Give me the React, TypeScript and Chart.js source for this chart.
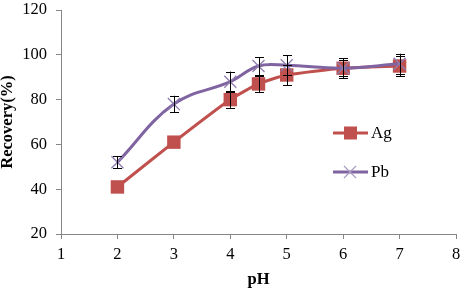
import React, { useEffect, useRef } from "react";
import { Chart, registerables } from "chart.js";

Chart.register(...registerables);

const phValues = [2, 3, 4, 4.5, 5, 6, 7];
const agValues = [41, 61, 80, 87, 91, 94, 95];
const agErrors = [0, 0, 3.7, 3.7, 4.5, 4.5, 4.5];
const pbValues = [52, 78, 88, 95, 95.3, 94, 96];
const pbErrors = [2.7, 3.7, 4.5, 4, 4.5, 3.5, 4.5];
const xTicks = [1, 2, 3, 4, 5, 6, 7, 8];
const yTicks = [20, 40, 60, 80, 100, 120];
const seriesNames = ["Ag", "Pb"];

const AG_COLOR = "#C0504D";
const PB_COLOR = "#8064A2";
const AXIS_COLOR = "#868686";
const FONT = "'Liberation Serif', 'Times New Roman', serif";

const errorBarPlugin = {
  id: "errorBars",
  afterDatasetsDraw(chart: any) {
    const ctx = chart.ctx;
    const xs = chart.scales.x;
    const ys = chart.scales.y;
    const sets = [
      { v: agValues, e: agErrors },
      { v: pbValues, e: pbErrors },
    ];
    ctx.save();
    ctx.strokeStyle = "#000";
    ctx.lineWidth = 1;
    sets.forEach((s) => {
      phValues.forEach((p, i) => {
        if (!s.e[i]) return;
        const x = Math.round(xs.getPixelForValue(p)) + 0.5;
        const yt = ys.getPixelForValue(s.v[i] + s.e[i]);
        const yb = ys.getPixelForValue(s.v[i] - s.e[i]);
        ctx.beginPath();
        ctx.moveTo(x, yt);
        ctx.lineTo(x, yb);
        ctx.moveTo(x - 4.5, Math.round(yt) + 0.5);
        ctx.lineTo(x + 4.5, Math.round(yt) + 0.5);
        ctx.moveTo(x - 4.5, Math.round(yb) + 0.5);
        ctx.lineTo(x + 4.5, Math.round(yb) + 0.5);
        ctx.stroke();
      });
    });
    ctx.restore();
  },
};

const legendPlugin = {
  id: "customLegend",
  afterDraw(chart: any) {
    const ctx = chart.ctx;
    const items = [
      { name: seriesNames[0], color: AG_COLOR, style: "rect", y: 133 },
      { name: seriesNames[1], color: PB_COLOR, style: "crossRot", y: 172 },
    ];
    ctx.save();
    items.forEach((it) => {
      ctx.strokeStyle = it.color;
      ctx.lineWidth = 3;
      ctx.beginPath();
      ctx.moveTo(333, it.y);
      ctx.lineTo(368, it.y);
      ctx.stroke();
      if (it.style === "rect") {
        ctx.fillStyle = it.color;
        ctx.fillRect(344, it.y - 6.5, 13, 13);
      } else {
        ctx.lineWidth = 1.2;
        ctx.strokeStyle = "#A99BC0";
        ctx.beginPath();
        ctx.moveTo(344, it.y - 6);
        ctx.lineTo(356, it.y + 6);
        ctx.moveTo(356, it.y - 6);
        ctx.lineTo(344, it.y + 6);
        ctx.stroke();
      }
      ctx.fillStyle = "#000";
      ctx.font = `17px ${FONT}`;
      ctx.textBaseline = "middle";
      ctx.textAlign = "left";
      ctx.fillText(it.name, 371, it.y + 1);
    });
    ctx.restore();
  },
};

export default function App() {
  const ref = useRef<HTMLCanvasElement | null>(null);
  useEffect(() => {
    document.body.style.margin = "0";
    const canvas = ref.current!;
    const chart = new Chart(canvas, {
      type: "line",
      data: {
        datasets: [
          {
            label: seriesNames[0],
            data: phValues.map((p, i) => ({ x: p, y: agValues[i] })),
            borderColor: AG_COLOR,
            backgroundColor: AG_COLOR,
            borderWidth: 3,
            pointStyle: "rect",
            pointRadius: 9.5,
            pointBorderWidth: 0,
            tension: 0.2,
            order: 2,
          },
          {
            label: seriesNames[1],
            data: phValues.map((p, i) => ({ x: p, y: pbValues[i] })),
            borderColor: PB_COLOR,
            backgroundColor: PB_COLOR,
            pointBorderColor: "#8E7DB0",
            borderWidth: 3,
            pointStyle: "crossRot",
            pointRadius: 8.5,
            pointBorderWidth: 1.3,
            tension: 0.4,
            order: 1,
          },
        ],
      },
      options: {
        animation: false,
        responsive: false,
        maintainAspectRatio: false,
        layout: { padding: { top: 10, right: 11, left: 0, bottom: 0 } },
        plugins: {
          legend: { display: false },
          tooltip: { enabled: false },
        },
        scales: {
          x: {
            type: "linear",
            min: 1,
            max: 8,
            afterBuildTicks: (s: any) => {
              s.ticks = xTicks.map((v) => ({ value: v }));
            },
            afterFit: (s: any) => {
              s.height = 56;
              s.paddingLeft = 0;
              s.paddingRight = 0;
              s.paddingTop = 0;
              s.paddingBottom = 0;
            },
            border: { color: AXIS_COLOR, width: 1 },
            grid: {
              drawOnChartArea: false,
              drawTicks: true,
              tickLength: 5,
              color: AXIS_COLOR,
            },
            ticks: {
              color: "#000",
              font: { family: FONT, size: 16.5 },
              padding: 6,
            },
            title: {
              display: true,
              text: "pH",
              color: "#000",
              font: { family: FONT, size: 16.5, weight: "bold" },
              padding: { top: 2, bottom: 0 },
            },
          },
          y: {
            type: "linear",
            min: 20,
            max: 120,
            afterBuildTicks: (s: any) => {
              s.ticks = yTicks.map((v) => ({ value: v }));
            },
            afterFit: (s: any) => {
              s.width = 61;
              s.paddingLeft = 0;
              s.paddingRight = 0;
              s.paddingTop = 0;
              s.paddingBottom = 0;
            },
            border: { color: AXIS_COLOR, width: 1 },
            grid: {
              drawOnChartArea: false,
              drawTicks: true,
              tickLength: 5,
              color: AXIS_COLOR,
            },
            ticks: {
              color: "#000",
              font: { family: FONT, size: 16.5 },
              padding: 9,
            },
            title: {
              display: true,
              text: "Recovery(%)",
              color: "#000",
              font: { family: FONT, size: 16.5, weight: "bold" },
              padding: { top: -2, bottom: 4 },
            },
          },
        },
      },
      plugins: [errorBarPlugin, legendPlugin],
    } as any);
    return () => chart.destroy();
  }, []);
  return (
    <div style={{ width: 467, height: 290, background: "#fff" }}>
      <canvas ref={ref} width={467} height={290} style={{ display: "block" }} />
    </div>
  );
}
